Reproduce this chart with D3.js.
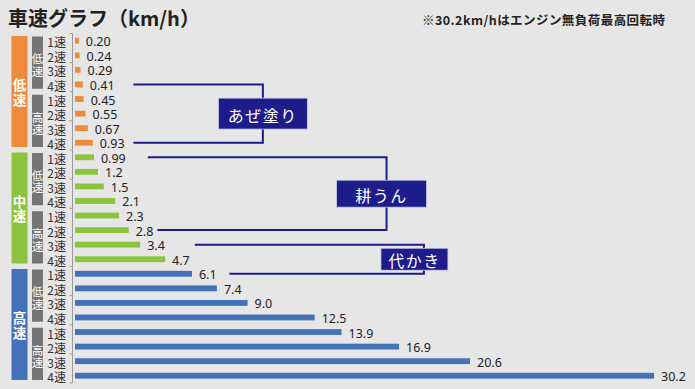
<!DOCTYPE html>
<html><head><meta charset="utf-8">
<script src="https://cdn.jsdelivr.net/npm/d3@7"></script>
<style>
html,body{margin:0;padding:0;background:#e6e6e6;}
svg{display:block;font-family:"Noto Sans CJK JP","Noto Sans",sans-serif;}
</style></head>
<body><svg id="c" width="695" height="389"></svg>
<script>
// ---- data ----
const title = "車速グラフ（km/h）";
const note = "※30.2km/hはエンジン無負荷最高回転時";
const speedGroups = ["低速", "中速", "高速"];
const subGroups = ["低速", "高速"];
const gears = ["1速", "2速", "3速", "4速"];
const values = [0.20,0.24,0.29,0.41,0.45,0.55,0.67,0.93,
                0.99,1.2,1.5,2.1,2.3,2.8,3.4,4.7,
                6.1,7.4,9.0,12.5,13.9,16.9,20.6,30.2];
const valueLabels = ["0.20","0.24","0.29","0.41","0.45","0.55","0.67","0.93",
                     "0.99","1.2","1.5","2.1","2.3","2.8","3.4","4.7",
                     "6.1","7.4","9.0","12.5","13.9","16.9","20.6","30.2"];
const works = ["あぜ塗り", "耕うん", "代かき"];
const workFromRow = [3, 8, 14];
const workToRow = [7, 13, 16];

// ---- styles / layout ----
const groupColors = ["#ee8a3b", "#8cc43f", "#4472b8"];
const subColor = "#757575";
const navy = "#1c1c8a";
const svg = d3.select("#c");

const rows = [];
speedGroups.forEach((g, gi) => subGroups.forEach((s, si) => gears.forEach((ge, k) => {
  const i = gi * 8 + si * 4 + k;
  rows.push({i, group: gi, sub: si, gear: ge, v: values[i], label: valueLabels[i]});
})));

const y = d3.scaleBand().domain(d3.range(rows.length)).range([33.5, 383]).paddingInner(0.6).paddingOuter(0.3);
const x = d3.scaleLinear().domain([0, 31.5]).range([74, 678]);
const step = y.step();
const cy = i => y(i) + y.bandwidth() / 2;
const rowTop = i => y(i) - y.paddingInner() * step / 2;

// vertical stacked text in one element
function vText(cx, cmid, str, size, gap, weight) {
  const chars = [...str];
  const t = svg.append("text").attr("text-anchor", "middle").attr("dominant-baseline", "central")
    .attr("font-size", size).attr("font-weight", weight).attr("fill", "#fff");
  chars.forEach((ch, k) => t.append("tspan").attr("x", cx)
    .attr("y", cmid + (k - (chars.length - 1) / 2) * gap).text(ch));
}

// title
svg.append("text").attr("x", 8).attr("y", 26).attr("font-size", 20).attr("font-weight", 700)
  .attr("fill", "#222").text(title);
svg.append("text").attr("x", 422).attr("y", 25).attr("font-size", 12.5).attr("font-weight", 700)
  .attr("fill", "#222").attr("textLength", 243).attr("lengthAdjust", "spacing").text(note);

// axis line with ticks every 2 rows
const axisX = 72.5;
svg.append("line").attr("x1", axisX).attr("x2", axisX).attr("y1", rowTop(0)).attr("y2", rowTop(0) + step * rows.length)
  .attr("stroke", "#9a9a9a").attr("stroke-width", 1);
svg.selectAll(".tk").data(d3.range(0, rows.length + 1, 2)).join("line")
  .attr("x1", axisX - 3).attr("x2", axisX).attr("y1", d => rowTop(0) + d * step).attr("y2", d => rowTop(0) + d * step)
  .attr("stroke", "#9a9a9a");

// group boxes
speedGroups.forEach((g, gi) => {
  const t = rowTop(gi * 8) + 2.5, b = rowTop(gi * 8) + 8 * step - 3;
  svg.append("rect").attr("x", 11.5).attr("y", t).attr("width", 16).attr("height", b - t).attr("fill", groupColors[gi]);
  vText(19.5, (t + b) / 2, g, 13.5, 14.5, 700);
  subGroups.forEach((s, si) => {
    const st = rowTop(gi * 8 + si * 4) + 3, sb = rowTop(gi * 8 + si * 4) + 4 * step - 3;
    svg.append("rect").attr("x", 32).attr("y", st).attr("width", 11).attr("height", sb - st).attr("fill", subColor);
    vText(37.5, (st + sb) / 2 + 2, s, 11.5, 12.5, 400);
  });
});

// gear labels
svg.selectAll(".gl").data(rows).join("text")
  .attr("x", 66).attr("y", d => cy(d.i) + 1).attr("text-anchor", "end").attr("dominant-baseline", "central")
  .attr("font-size", 12).attr("fill", "#333").text(d => d.gear);

// bars
svg.selectAll(".bar").data(rows).join("rect")
  .attr("x", x(0) + 1).attr("y", d => y(d.i)).attr("width", d => x(d.v) - x(0))
  .attr("height", y.bandwidth()).attr("fill", d => groupColors[d.group]);

// value labels
svg.selectAll(".vl").data(rows).join("text")
  .attr("x", d => x(d.v) + 8).attr("y", d => cy(d.i) + 1).attr("dominant-baseline", "central")
  .attr("font-family", "'Noto Sans',sans-serif").attr("font-size", 12.5).attr("fill", "#222").text(d => d.label);

// work brackets (annotation layout in value units)
const bracketLayout = [
  {topStart: 3.1, botStart: 3.1, right: 9.85, boxDx: 0, boxW: 89, boxH: 31},
  {topStart: 3.85, botStart: 4.35, right: 16.3, boxDx: -5, boxW: 90, boxH: 27},
  {topStart: 6.3, botStart: 8.1, right: 18.25, boxDx: -9.5, boxW: 67, boxH: 22}
];
works.forEach((w, k) => {
  const L = bracketLayout[k];
  const y1 = cy(workFromRow[k]), y2 = cy(workToRow[k]), xr = x(L.right);
  svg.append("path")
    .attr("d", `M${x(L.topStart)},${y1}H${xr}V${y2}H${x(L.botStart)}`)
    .attr("fill", "none").attr("stroke", navy).attr("stroke-width", 2);
  const bcx = xr + L.boxDx, bcy = (y1 + y2) / 2;
  svg.append("rect").attr("x", bcx - L.boxW / 2).attr("y", bcy - L.boxH / 2).attr("width", L.boxW).attr("height", L.boxH)
    .attr("fill", navy).attr("stroke", "#d0d0e6").attr("stroke-width", 0.8);
  svg.append("text").attr("x", bcx).attr("y", bcy + 1).attr("text-anchor", "middle").attr("dominant-baseline", "central")
    .attr("font-size", 16).attr("letter-spacing", 1.5).attr("fill", "#fff").text(w);
});
</script></body></html>
